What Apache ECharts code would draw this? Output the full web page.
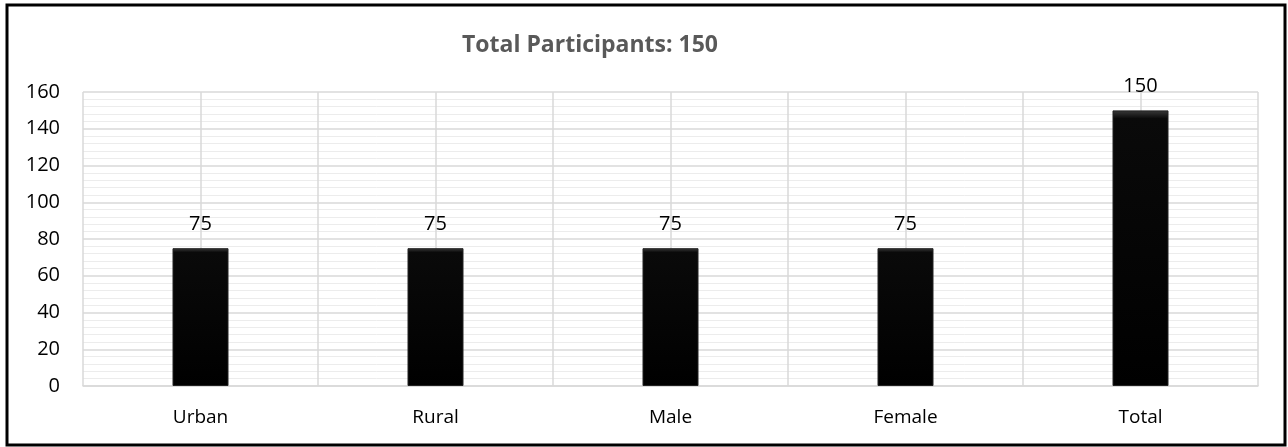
<!DOCTYPE html>
<html><head><meta charset="utf-8">
<script src="https://cdn.jsdelivr.net/npm/echarts@6/dist/echarts.min.js"></script>
<style>html,body{margin:0;padding:0;background:#fff}#c{width:1288px;height:447px}</style>
</head><body><div id="c"></div>
<script>
const categories = ['Urban', 'Rural', 'Male', 'Female', 'Total'];
const participants = [75, 75, 75, 75, 150];
const titleText = 'Total Participants: 150';
const yMin = 0, yMax = 160, yStep = 20;

const FONT = 'Open Sans';
const chart = echarts.init(document.getElementById('c'));
chart.setOption({
  animation: false,
  backgroundColor: '#fff',
  title: {
    text: titleText, left: 585, top: 29, textAlign: 'center',
    textStyle: {fontFamily: FONT, fontSize: 23, fontWeight: 'bold', color: '#595959'}
  },
  graphic: [{
    type: 'rect', shape: {x: 7, y: 5, width: 1278, height: 440},
    style: {fill: null, stroke: '#000', lineWidth: 3}, z: 100
  }],
  grid: {left: 83, right: 30, top: 92, bottom: 61},
  xAxis: [{
    type: 'category', data: categories,
    axisLine: {show: true, lineStyle: {color: '#d9d9d9', width: 1.5}},
    axisTick: {show: false},
    axisLabel: {fontFamily: FONT, fontSize: 19, color: '#000', margin: 22},
    splitLine: {show: false}
  }, {
    type: 'value', min: 0, max: 10, interval: 1, show: true, position: 'bottom',
    axisLine: {show: false}, axisTick: {show: false}, axisLabel: {show: false},
    splitLine: {show: true, lineStyle: {color: '#d9d9d9', width: 1.5}}
  }],
  yAxis: {
    type: 'value', min: yMin, max: yMax, interval: yStep,
    axisLine: {show: false}, axisTick: {show: false},
    axisLabel: {fontFamily: FONT, fontSize: 20, color: '#000', margin: 23},
    splitLine: {lineStyle: {color: '#d9d9d9', width: 1.5}},
    minorTick: {show: false, splitNumber: 5},
    minorSplitLine: {show: true, lineStyle: {color: '#ececec', width: 1}}
  },
  series: [{
    type: 'bar', data: participants, xAxisIndex: 0, barWidth: 56, z: 5,
    itemStyle: {
      color: {type: 'linear', x: 0, y: 0, x2: 0, y2: 1, colorStops: [
        {offset: 0, color: '#3a3a3a'}, {offset: 0.03, color: '#0a0a0a'}, {offset: 1, color: '#000'}]},
      borderColor: '#222', borderWidth: 1
    },
    label: {show: true, position: 'top', distance: 14, fontFamily: FONT, fontSize: 20, color: '#000'}
  }]
});
</script></body></html>
